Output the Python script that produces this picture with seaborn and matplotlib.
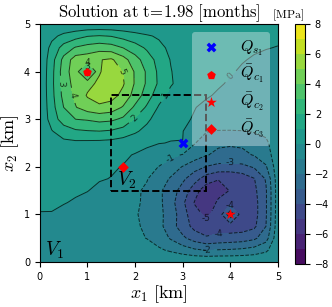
import numpy as np
import matplotlib
matplotlib.use('Agg')
import matplotlib.pyplot as plt
import seaborn as sns
from matplotlib.patches import Rectangle

plt.rcParams['mathtext.fontset'] = 'cm'

# grid of the pressure field (km), spacing 0.25
x_km = np.linspace(0, 5, 21)
y_km = np.linspace(0, 5, 21)

# pressure [MPa]; rows from y=5 (top) down to y=0
p_rows = [
    [0.1, 0.1, 0.1, 0.1, 0.1, 0.1, 0.1, 0.1, 0.1, 0.1, 0.1, 0.1, 0.1, 0.1, 0.1, 0.1, 0.1, 0.08, 0.07, 0.06, 0.05],
    [0.1, 0.75, 1.25, 1.6, 1.95, 2.05, 1.95, 1.65, 1.35, 1.1, 0.88, 0.65, 0.48, 0.38, 0.3, 0.24, 0.18, 0.14, 0.1, 0.07, 0.05],
    [0.1, 1.3, 2.4, 3.1, 3.4, 3.6, 3.45, 3.0, 2.45, 1.85, 1.25, 0.8, 0.52, 0.38, 0.28, 0.2, 0.13, 0.08, 0.04, 0.01, -0.01],
    [0.1, 1.6, 3.3, 4.5, 4.6, 4.95, 5.15, 4.4, 3.4, 2.5, 1.65, 0.95, 0.55, 0.35, 0.22, 0.14, 0.07, 0.02, -0.03, -0.06, -0.05],
    [0.1, 1.7, 3.5, 4.6, 2.0, 4.9, 5.6, 4.95, 3.9, 2.85, 1.8, 1.05, 0.55, 0.32, 0.18, 0.1, 0.03, -0.04, -0.1, -0.11, -0.05],
    [0.1, 1.75, 3.4, 4.4, 4.7, 5.2, 5.7, 5.1, 3.9, 2.85, 1.85, 1.1, 0.6, 0.35, 0.2, 0.05, -0.05, -0.15, -0.22, -0.2, -0.1],
    [0.1, 1.7, 3.3, 4.2, 5.1, 5.6, 5.4, 4.7, 3.6, 2.5, 1.4, 0.7, 0.35, 0.15, 0.05, -0.06, -0.18, -0.28, -0.32, -0.28, -0.12],
    [0.1, 1.6, 3.0, 3.95, 4.5, 4.75, 4.55, 3.9, 2.8, 1.85, 0.9, 0.45, 0.2, 0.02, -0.12, -0.22, -0.3, -0.38, -0.4, -0.35, -0.15],
    [0.1, 1.45, 2.5, 3.0, 3.1, 3.3, 3.2, 2.8, 1.9, 1.2, 0.55, 0.25, 0.1, -0.05, -0.18, -0.3, -0.38, -0.45, -0.48, -0.42, -0.18],
    [0.1, 0.95, 1.5, 1.85, 1.95, 2.0, 1.9, 1.6, 1.15, 0.7, 0.35, 0.15, 0.03, -0.6, -0.95, -1.05, -1.05, -1.02, -0.92, -0.75, -0.25],
    [0.1, 0.55, 0.75, 0.78, 0.75, 0.72, 0.65, 0.5, 0.35, 0.2, 0.03, -0.03, -0.01, -0.95, -1.5, -1.85, -1.9, -1.85, -1.6, -1.2, -0.3],
    [0.1, 0.4, 0.55, 0.55, 0.5, 0.4, 0.28, 0.12, -0.05, -0.3, -0.55, -0.8, -1.05, -1.5, -1.95, -2.2, -2.25, -2.2, -1.95, -1.5, -0.35],
    [0.1, 0.3, 0.38, 0.35, 0.3, 0.2, 0.08, -0.03, -0.35, -0.7, -1.02, -1.5, -2.05, -2.6, -3.05, -3.3, -3.35, -3.25, -2.9, -2.1, -0.4],
    [0.1, 0.22, 0.25, 0.2, 0.12, 0.05, -0.02, -0.3, -0.6, -0.95, -1.5, -2.1, -2.8, -3.6, -4.5, -4.95, -4.9, -4.6, -4.05, -2.9, -0.45],
    [0.1, 0.15, 0.15, 0.08, 0.02, -0.15, -0.4, -0.65, -0.85, -1.15, -1.8, -2.5, -3.4, -4.6, -5.6, -5.4, -4.95, -4.7, -4.25, -3.1, -0.5],
    [0.1, 0.06, 0.03, -0.06, -0.2, -0.4, -0.6, -0.78, -0.92, -1.1, -1.75, -2.6, -3.8, -5.05, -5.8, -4.8, -4.5, -4.5, -4.4, -3.1, -0.5],
    [-0.03, -0.02, -0.15, -0.28, -0.4, -0.55, -0.7, -0.85, -0.95, -1.15, -1.7, -2.5, -3.5, -4.75, -5.15, -4.7, -2.3, -4.6, -4.4, -3.1, -0.45],
    [-0.05, -0.15, -0.25, -0.38, -0.5, -0.62, -0.74, -0.84, -0.92, -1.1, -1.7, -2.55, -3.5, -4.3, -4.7, -4.5, -4.55, -4.5, -4.2, -3.0, -0.4],
    [-0.05, -0.12, -0.2, -0.3, -0.4, -0.5, -0.6, -0.72, -0.85, -1.02, -1.45, -2.1, -2.8, -3.45, -3.85, -3.7, -3.6, -3.5, -3.2, -2.4, -0.3],
    [-0.05, -0.08, -0.12, -0.17, -0.22, -0.28, -0.35, -0.43, -0.52, -0.65, -0.85, -1.15, -1.5, -1.85, -2.05, -1.95, -1.9, -1.8, -1.6, -1.2, -0.2],
    [-0.05, -0.05, -0.05, -0.05, -0.05, -0.05, -0.05, -0.05, -0.05, -0.05, -0.05, -0.05, -0.05, -0.05, -0.05, -0.05, -0.05, -0.05, -0.05, -0.05, -0.05],
]
pressure = np.array(p_rows)[::-1]

# wells / sensor
src_names = [r'$Q_{s_1}$', r'$\bar{Q}_{c_1}$', r'$\bar{Q}_{c_2}$', r'$\bar{Q}_{c_3}$']
src_x = [3.0, 1.0, 4.0, 1.75]
src_y = [2.5, 4.0, 1.0, 2.0]
src_marker = ['X', 'p', '*', 'D']
src_color = ['blue', 'red', 'red', 'red']
src_size = [50, 42, 65, 30]

# subdomain V2
v2_lo, v2_hi = 1.5, 3.5

levels = np.arange(-8, 9, 1)
cbar_ticks = np.arange(-8, 9, 2)

fig = plt.figure(figsize=(3.32, 3.07), dpi=100)
ax = fig.add_axes([0.120, 0.1466, 0.717, 0.775])
cax = fig.add_axes([0.889, 0.14, 0.030, 0.782])

cf = ax.contourf(x_km, y_km, pressure, levels=levels, cmap='viridis')
cs = ax.contour(x_km, y_km, pressure, levels=levels, colors='k',
                linewidths=0.7, alpha=0.7)
ax.clabel(cs, fmt='%d', fontsize=6.5, inline=True)

ax.add_patch(Rectangle((v2_lo, v2_lo), v2_hi - v2_lo, v2_hi - v2_lo,
                       fill=False, ls='--', lw=1.4, color='k', zorder=3))

for name, sx, sy, m, c, s in zip(src_names, src_x, src_y, src_marker, src_color, src_size):
    sns.scatterplot(x=[sx], y=[sy], marker=m, color=c, s=s, linewidth=0,
                    label=name, ax=ax, zorder=4)

ax.text(0.1, 0.02, r'$V_1$', fontsize=14, ha='left', va='bottom')
ax.text(1.62, 1.5, r'$V_2$', fontsize=14, ha='left', va='bottom')

leg = ax.legend(loc='upper right', fontsize=11.5, framealpha=0.35,
                labelspacing=0.32, handletextpad=1.0, borderpad=0.4,
                handlelength=1.6, edgecolor='none')

ax.set_xlim(0, 5)
ax.set_ylim(0, 5)
ax.set_xticks(range(6))
ax.set_yticks(range(6))
ax.tick_params(labelsize=7)
ax.set_xlabel(r'$x_1\ [\mathrm{km}]$', fontsize=13, labelpad=1)
ax.set_ylabel(r'$x_2\ [\mathrm{km}]$', fontsize=13, labelpad=2)
ax.set_title(r'$\mathrm{Solution\ at\ t\!=\!1.98\ [months]}$', fontsize=12, pad=3)

cb = fig.colorbar(cf, cax=cax, ticks=cbar_ticks)
cb.ax.tick_params(labelsize=7)
fig.text(288 / 332, 1 - 15 / 307, r'$[\mathrm{MPa}]$', fontsize=8.5,
         ha='center', va='center')

fig.savefig('out.png', dpi=100)
